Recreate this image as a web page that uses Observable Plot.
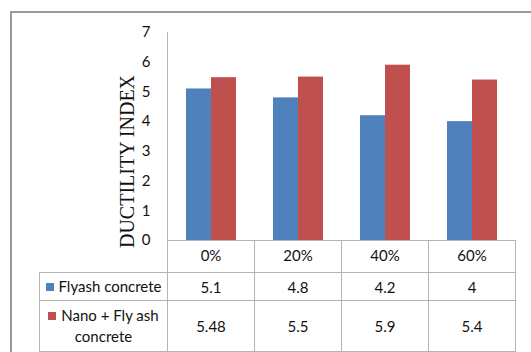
<!DOCTYPE html>
<html><head><meta charset="utf-8">
<script src="https://cdn.jsdelivr.net/npm/d3@7"></script>
<script src="https://cdn.jsdelivr.net/npm/@observablehq/plot@0.6"></script>
<style>
html,body{margin:0;padding:0;background:#fff;width:531px;height:352px;overflow:hidden;}
#frame{position:absolute;left:10px;top:11px;width:560px;height:380px;border:2px solid #9a9a9a;box-sizing:border-box;}
#chart{position:absolute;left:0;top:0;}
#yline{position:absolute;left:167px;top:32px;width:1px;height:208px;background:#b4b4b4;}
#tbl{position:absolute;left:39px;top:240px;border-collapse:collapse;table-layout:fixed;font-family:Lato,sans-serif;font-size:15px;color:#111;}
#tbl td{border:1px solid #b4b4b4;padding:0;text-align:center;}
.sw{display:inline-block;width:8px;height:8px;margin-right:5px;vertical-align:1px;}
</style></head><body>
<div id="frame"></div>
<div id="chart"></div>
<div id="yline"></div>
<table id="tbl"></table>
<script>
const categories = ["0%", "20%", "40%", "60%"];
const seriesNames = ["Flyash concrete", "Nano + Fly ash concrete"];
const flyash = [5.1, 4.8, 4.2, 4];
const nanoFlyash = [5.48, 5.5, 5.9, 5.4];
const seriesColors = ["#4F81BD", "#C0504D"];
const yTicks = [0, 1, 2, 3, 4, 5, 6, 7];
const yTitle = "DUCTILITY INDEX";

const seriesValues = [flyash, nanoFlyash];
const data = categories.flatMap((c, i) => seriesNames.map((s, j) => ({category: c, series: s, value: seriesValues[j][i]})));

const plot = Plot.plot({
  width: 531, height: 272,
  marginLeft: 167, marginRight: 16, marginTop: 32, marginBottom: 32,
  style: {background: "none", fontFamily: "Lato, sans-serif", fontSize: "15px", color: "#111"},
  fx: {domain: categories, padding: 0, axis: "bottom", label: null, tickSize: 0, tickPadding: 10},
  x: {domain: seriesNames, paddingInner: 0, paddingOuter: 0.74, axis: null},
  y: {domain: [0, 7], ticks: yTicks, tickFormat: d3.format("d"), tickSize: 0, tickPadding: 17, label: null},
  color: {domain: seriesNames, range: seriesColors},
  marks: [
    Plot.barY(data, {fx: "category", x: "series", y: "value", fill: "series"}),
    Plot.ruleY([0], {stroke: "#b4b4b4"}),
    Plot.text([yTitle], {fx: () => categories[0], text: d => d, frameAnchor: "left", textAnchor: "middle", lineAnchor: "middle",
      rotate: -90, dx: -40, dy: 25, fontFamily: "Liberation Serif, serif", fontSize: 20, fill: "#111"})
  ]
});
document.getElementById("chart").appendChild(plot);

// data table below the chart
const tbl = document.getElementById("tbl");
const colWidths = [128, 87, 87, 87, 87];
const cg = document.createElement("colgroup");
colWidths.forEach(w => { const c = document.createElement("col"); c.style.width = w + "px"; cg.appendChild(c); });
tbl.appendChild(cg);
const rowHeights = [32, 28, 51];
const hr = document.createElement("tr"); hr.style.height = rowHeights[0] + "px";
const h0 = document.createElement("td"); h0.style.borderTop = "none"; h0.style.borderLeft = "none"; hr.appendChild(h0);
categories.forEach(() => hr.appendChild(document.createElement("td")));
tbl.appendChild(hr);
seriesNames.forEach((s, j) => {
  const tr = document.createElement("tr"); tr.style.height = rowHeights[j + 1] + "px";
  const td = document.createElement("td");
  td.style.lineHeight = "21px";
  td.innerHTML = `<span class="sw" style="background:${seriesColors[j]}"></span>${s}`;
  tr.appendChild(td);
  seriesValues[j].forEach(v => { const c = document.createElement("td"); c.textContent = v; tr.appendChild(c); });
  tbl.appendChild(tr);
});
</script>
</body></html>
